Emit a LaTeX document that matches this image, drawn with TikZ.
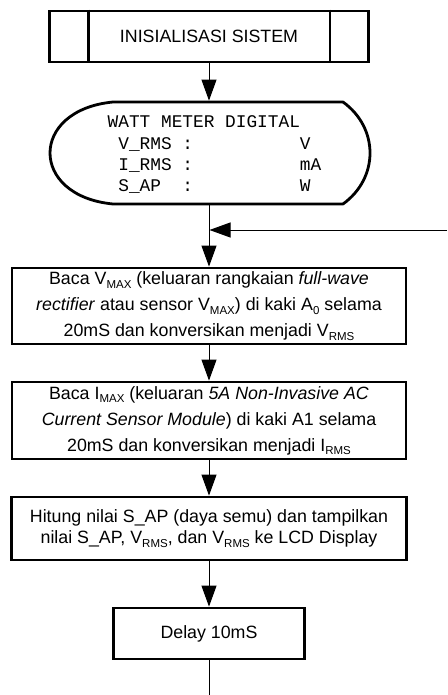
\documentclass[tikz,border=0pt]{standalone}
\usepackage{fontspec}
\setmainfont{Liberation Sans}
\setmonofont{Liberation Mono}
\usetikzlibrary{arrows.meta}
\newcommand\sbs[1]{\raisebox{-3.5pt}{\fontsize{11.5}{11.5}\selectfont #1}}
\begin{document}
\begin{tikzpicture}[x=1pt,y=-1pt,
  box/.style={draw,line width=2.8pt,inner sep=0pt,align=center,font=\fontsize{17.8}{26}\selectfont},
  conn/.style={line width=1pt,-{Triangle[length=21pt,width=15pt]}},
  plainline/.style={line width=1pt},
  thickline/.style={line width=2.8pt},
  lcd/.style={anchor=base west,inner sep=0pt,font=\ttfamily\fontsize{17.8}{21}\selectfont}]
\useasboundingbox (0,0) rectangle (447,695);

% predefined process
\node[box,minimum width=319pt,minimum height=51pt] (init) at (209,36.5) {INISIALISASI SISTEM};
\draw[thickline] ([xshift=40pt]init.north west) -- ([xshift=40pt]init.south west);
\draw[thickline] ([xshift=-40pt]init.north east) -- ([xshift=-40pt]init.south east);

% display shape
\node[inner sep=0pt,outer sep=0pt,minimum width=320pt,minimum height=104.8pt] (disp) at (209,153) {};
\draw[thickline,line join=round] (113,102) -- (343,102)
  .. controls (379,128) and (379,178) .. (343,204) -- (113,204)
  .. controls (29,196) and (29,110) .. (113,102) -- cycle;
\node[lcd] (l1) at (107.5,128) {WATT METER DIGITAL};
\node[lcd] (l2) at (107.5,149.2) {\phantom{X}V\_RMS\phantom{X}:\phantom{XXXXXXXXXX}V};
\node[lcd] (l3) at (107.5,170.4) {\phantom{X}I\_RMS\phantom{X}:\phantom{XXXXXXXXXX}mA};
\node[lcd] (l4) at (107.5,191.6) {\phantom{X}S\_AP\phantom{XX}:\phantom{XXXXXXXXXX}W};

% process boxes
\node[box,minimum width=394pt,minimum height=76pt] (b1) at (209,306)
  {Baca V\sbs{MAX} (keluaran rangkaian \textit{full-wave}\\
   \textit{rectifier} atau sensor V\sbs{MAX}) di kaki A\sbs{0} selama\\
   20mS dan konversikan menjadi V\sbs{RMS}};
\node[box,minimum width=394pt,minimum height=77pt] (b2) at (209,420.5)
  {Baca I\sbs{MAX} (keluaran \textit{5A Non-Invasive AC}\\
   \textit{Current Sensor Module}) di kaki A1 selama\\
   20mS dan konversikan menjadi I\sbs{RMS}};
\node[box,minimum width=395pt,minimum height=63pt,font=\fontsize{17.8}{21.7}\selectfont] (b3) at (209,528.5)
  {Hitung nilai S\_AP (daya semu) dan tampilkan\\
   nilai S\_AP, V\sbs{RMS}, dan V\sbs{RMS} ke LCD Display};
\node[box,minimum width=191pt,minimum height=51pt] (b4) at (209,633.5) {Delay 10mS};

% connectors
\draw[conn] (init) -- (disp);
\draw[conn] (disp) -- (b1);
\draw[conn] (b1) -- (b2);
\draw[conn] (b2) -- (b3);
\draw[conn] (b3) -- (b4);
\coordinate (fbR) at (447,230);
\coordinate (fbJ) at (209.5,230);
\draw[conn] (fbR) -- (fbJ);
\coordinate (endB) at (209,695);
\draw[plainline] (b4) -- (endB);
\end{tikzpicture}
\end{document}
